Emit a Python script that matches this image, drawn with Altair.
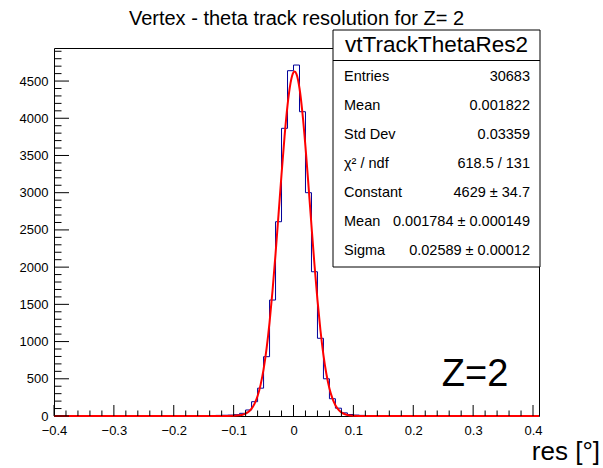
import altair as alt
import pandas as pd

# ---------------- data ----------------
bin_lo = [-0.16, -0.15, -0.14, -0.13, -0.12, -0.11, -0.10, -0.09, -0.08, -0.07,
          -0.06, -0.05, -0.04, -0.03, -0.02, -0.01, 0.00, 0.01, 0.02, 0.03,
          0.04, 0.05, 0.06, 0.07, 0.08, 0.09, 0.10, 0.11, 0.12, 0.13]
counts = [5, 4, 4, 8, 10, 12, 18, 36, 81, 192,
          374, 797, 1558, 2610, 3865, 4639, 4715, 4088, 3000, 1938,
          1044, 500, 232, 105, 42, 20, 12, 8, 6, 3]
hist_min, hist_max, bin_w = -0.40, 0.41, 0.01

fit_x = [-0.40, -0.12, -0.11, -0.10, -0.09, -0.085, -0.08, -0.075, -0.07, -0.065,
         -0.06, -0.055, -0.05, -0.045, -0.04, -0.035, -0.03, -0.025, -0.02, -0.015,
         -0.01, -0.005, 0.0, 0.0018, 0.005, 0.01, 0.015, 0.02, 0.025, 0.03,
         0.035, 0.04, 0.045, 0.05, 0.055, 0.06, 0.065, 0.07, 0.075, 0.08,
         0.085, 0.09, 0.10, 0.11, 0.12, 0.41]
fit_y = [0, 0.1, 0.4, 2, 9, 17, 32, 57, 99, 166,
         268, 418, 626, 905, 1259, 1686, 2178, 2709, 3248, 3750,
         4173, 4472, 4618, 4629, 4594, 4403, 4065, 3616, 3099, 2559,
         2035, 1560, 1152, 819, 561, 371, 236, 144, 85, 49,
         27, 14, 3.5, 0.8, 0.1, 0]

x_major = [-0.4, -0.3, -0.2, -0.1, 0.0, 0.1, 0.2, 0.3, 0.4]
x_minor = [round(-0.4 + 0.02 * i, 2) for i in range(41) if i % 5 != 0]
y_major = [0, 500, 1000, 1500, 2000, 2500, 3000, 3500, 4000, 4500]
y_minor = [100 * i for i in range(50) if i % 5 != 0]
y_top = 4944

title_text = "Vertex - theta track resolution for Z= 2"
stats_name = "vtTrackThetaRes2"
stats_labels = ["Entries", "Mean", "Std Dev", "χ² / ndf", "Constant", "Mean", "Sigma"]
stats_values = ["30683", "0.001822", "0.03359", "618.5 / 131", "4629 ± 34.7",
                "0.001784 ± 0.000149", "0.02589 ± 0.00012"]
x_title = "res [°]"
z_label = "Z=2"

# ---------------- build tables ----------------
step_x = [hist_min] + bin_lo + [round(bin_lo[-1] + bin_w, 2), hist_max]
step_y = [0] + counts + [0, 0]
hist_df = pd.DataFrame({"x": step_x, "y": step_y})
fit_df = pd.DataFrame({"x": fit_x, "y": fit_y})

W, H = 485, 368
FONT = "Liberation Sans"
INK = "#000000"

xscale = alt.Scale(domain=[hist_min, hist_max], nice=False, zero=False)
yscale = alt.Scale(domain=[0, y_top], nice=False)

xaxis = alt.Axis(values=x_major, format="~g", labelFontSize=13, labelFont=FONT,
                 labelColor=INK, ticks=False, domain=False, grid=False, title=None,
                 labelPadding=8, labelFlush=False, labelOverlap=False)
yaxis = alt.Axis(values=y_major, format="d", labelFontSize=13, labelFont=FONT,
                 labelColor=INK, ticks=False, domain=False, grid=False, title=None,
                 labelPadding=6, labelOverlap=False)

hist = alt.Chart(hist_df).mark_line(interpolate="step-after", color="#000099",
                                    strokeWidth=1).encode(
    x=alt.X("x:Q", scale=xscale, axis=xaxis),
    y=alt.Y("y:Q", scale=yscale, axis=yaxis),
)

fit = alt.Chart(fit_df).mark_line(interpolate="monotone", color="#ff0000",
                                  strokeWidth=2).encode(
    x=alt.X("x:Q", scale=xscale),
    y=alt.Y("y:Q", scale=yscale),
)

def xticks(vals, length):
    return alt.Chart(pd.DataFrame({"t": vals})).mark_rule(color=INK, strokeWidth=1).encode(
        x=alt.X("t:Q", scale=xscale), y=alt.value(H), y2=alt.value(H - length))

def yticks(vals, length):
    return alt.Chart(pd.DataFrame({"t": vals})).mark_rule(color=INK, strokeWidth=1).encode(
        y=alt.Y("t:Q", scale=yscale), x=alt.value(0), x2=alt.value(length))

one = pd.DataFrame({"a": [0]})

def text(s, x, y, size, align="left", baseline="middle"):
    return alt.Chart(one).mark_text(text=s, font=FONT, fontSize=size, align=align,
                                    baseline=baseline, color=INK).encode(
        x=alt.value(x), y=alt.value(y))

# stats box
box = alt.Chart(one).mark_rect(fill="white", stroke=INK, strokeWidth=1).encode(
    x=alt.value(279), x2=alt.value(486), y=alt.value(-18), y2=alt.value(219))
box_line = alt.Chart(one).mark_rule(color=INK, strokeWidth=1).encode(
    x=alt.value(279), x2=alt.value(486), y=alt.value(12.5))

layers = [hist, fit,
          xticks(x_major, 11), xticks(x_minor, 5.5),
          yticks(y_major, 15), yticks(y_minor, 7.5),
          box, box_line,
          text(stats_name, 382.5, -3, 22.5, align="center"),
          text(title_text, W / 2, -29, 20, align="center"),
          text(x_title, 546, 404, 26, align="right"),
          text(z_label, 421, 327, 38, align="center")]

for i, (lab, val) in enumerate(zip(stats_labels, stats_values)):
    yy = 29.0 + 29.0 * i
    layers.append(text(lab, 290, yy, 14.5))
    layers.append(text(val, 476, yy, 14.5, align="right"))

chart = alt.layer(*layers).properties(
    width=W, height=H,
    autosize=alt.AutoSizeParams(type="none"),
    padding={"left": 54, "top": 48, "right": 64, "bottom": 52},
    background="white",
).configure_view(stroke=INK, strokeWidth=1)

chart.save("out.html", embed_options={"renderer": "svg", "actions": False})
